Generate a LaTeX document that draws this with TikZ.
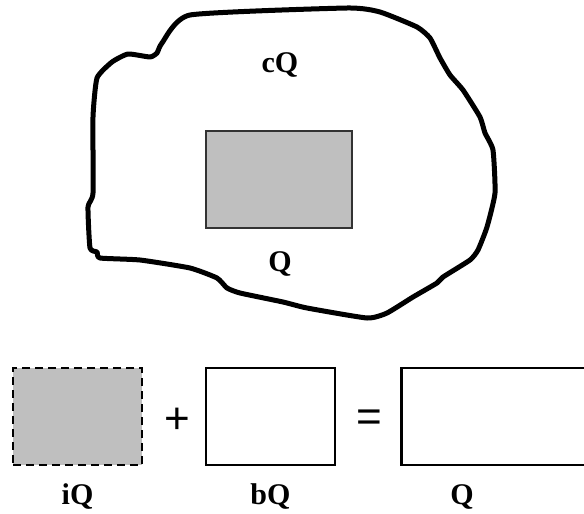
\documentclass[tikz,border=0pt]{standalone}
\usepackage{fontspec}
\setmainfont{Liberation Serif}
\newfontfamily\signfont{Liberation Sans}
\usetikzlibrary{positioning}

\begin{document}
\begin{tikzpicture}[x=1pt,y=-1pt,
  lbl/.style={inner sep=0pt, font=\fontsize{30}{32}\selectfont\bfseries},
  sign/.style={inner sep=0pt, font=\signfont\fontsize{44}{46}\selectfont},
  box/.style={draw, line width=2.6pt, minimum width=129pt, minimum height=97pt, inner sep=0pt}]
\clip (0,0) rectangle (584,514);
\useasboundingbox (0,0) rectangle (584,514);
% the region cQ
\draw[line width=5pt, line join=round] plot[smooth cycle, tension=0.3] coordinates {
  (190,15) (347,8) (380,12) (417,27) (430,38) (440,58) (450,75) (463,90)
  (480,117) (485,133) (493,150) (495,193) (487,227) (478,250) (470,260)
  (443,277) (437,283) (413,297) (387,313) (367,318) (307,308) (283,302)
  (240,293) (227,288) (217,278) (190,268) (140,260) (100,258) (97,252)
  (90,248) (88,207) (93,193) (93,117) (97,78) (112,62) (128,54) (150,57)
  (157,53) (162,43)};
\node[draw=black!80, line width=2.4pt, fill=black!25, minimum width=146pt, minimum height=97pt, inner sep=0pt] (inner) at (279,179.5) {};
\node[lbl] (cq) at (280,65) {cQ};
\node[lbl] (q) at (280,264) {Q};
% iQ + bQ = Q
\node[box, dashed, dash pattern=on 8pt off 5pt, fill=black!25] (iq) at (77.5,416.5) {};
\node[box] (bq) at (270.5,416.5) {};
\node[box, minimum width=200pt, anchor=west] (full) at (400,416.5) {};
\node[sign] (plus) at (177,421) {+};
\node[sign] (eq) at (369,421) {=};
\node[lbl] (iqlbl) at (iq |- 0,497) {iQ};
\node[lbl] (bqlbl) at (bq |- 0,497) {bQ};
\node[lbl] (qlbl) at (462,497) {Q};
\end{tikzpicture}
\end{document}
